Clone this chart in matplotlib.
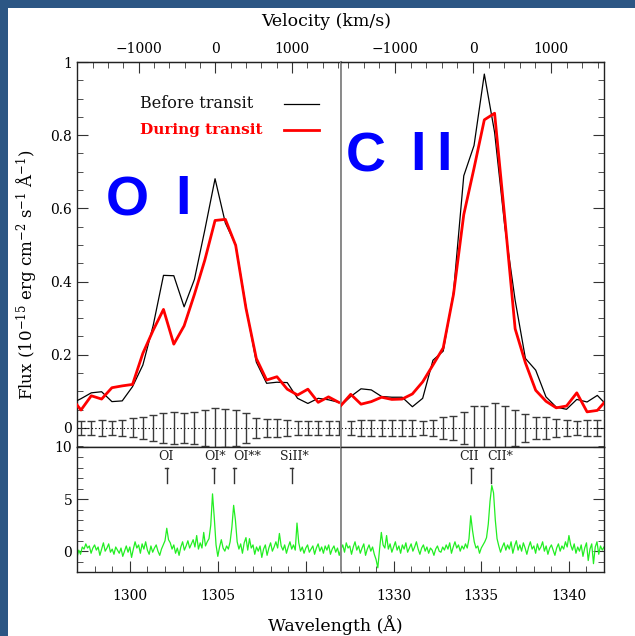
import numpy as np
import matplotlib
matplotlib.use("Agg")
import matplotlib.pyplot as plt
from matplotlib.ticker import MultipleLocator, FixedLocator, FuncFormatter
from matplotlib.patches import Rectangle

plt.rcParams['font.family'] = ['DejaVu Serif']
plt.rcParams['mathtext.fontset'] = 'dejavuserif'

# ── DATA ────────────────────────────────────────────────────
# binned low-resolution spectra (upper panels), first point lies just off the panel edge
bin_step = 0.586
oi_bin_start = 1296.64
cii_bin_start = 1326.97

oi_before = [0.066, 0.08, 0.096, 0.099, 0.072, 0.074, 0.113, 0.172, 0.28, 0.417,
             0.416, 0.331, 0.406, 0.54, 0.681, 0.56, 0.50, 0.33, 0.18, 0.122,
             0.125, 0.124, 0.081, 0.067, 0.081, 0.077, 0.07]
oi_during = [0.085, 0.049, 0.088, 0.079, 0.110, 0.115, 0.119, 0.204, 0.267, 0.324,
             0.229, 0.279, 0.365, 0.458, 0.567, 0.57, 0.499, 0.327, 0.19, 0.131,
             0.14, 0.106, 0.09, 0.106, 0.07, 0.085, 0.07]
oi_err = [0.019, 0.019, 0.021, 0.019, 0.021, 0.026, 0.030, 0.036, 0.041, 0.043,
          0.041, 0.045, 0.050, 0.054, 0.052, 0.050, 0.040, 0.027, 0.025, 0.025,
          0.022, 0.019, 0.019, 0.019, 0.019, 0.019]

cii_before = [0.06, 0.086, 0.107, 0.104, 0.086, 0.084, 0.084, 0.058, 0.081, 0.185,
              0.21, 0.371, 0.689, 0.772, 0.967, 0.808, 0.549, 0.349, 0.19, 0.158,
              0.085, 0.057, 0.051, 0.078, 0.071, 0.089, 0.06]
cii_during = [0.06, 0.092, 0.065, 0.072, 0.084, 0.078, 0.079, 0.093, 0.126, 0.172,
              0.219, 0.365, 0.583, 0.71, 0.842, 0.86, 0.571, 0.271, 0.178, 0.103,
              0.073, 0.055, 0.06, 0.096, 0.044, 0.048, 0.08]
cii_err = [0.019, 0.021, 0.021, 0.023, 0.021, 0.021, 0.021, 0.019, 0.021, 0.030,
           0.032, 0.043, 0.059, 0.061, 0.069, 0.059, 0.050, 0.038, 0.029, 0.029,
           0.024, 0.021, 0.019, 0.022, 0.021, 0.027]

# high-resolution comparison spectrum (lower panels), 0.1 A sampling
hr_step = 0.1
oi_hr_start = 1297.0
cii_hr_start = 1327.0
oi_hr = [-0.6, 0.1, -0.3, 0.4, 0.2, 0.7, 0.3, 0.5, -0.2, 0.3,
         0.6, 0.1, 0.4, -0.4, 0.2, 0.8, 0.0, 0.3, 0.7, -0.1,
         0.2, -0.3, 0.4, 0.1, -0.2, 0.3, -0.5, 0.0, 0.5, -0.1,
         0.4, -0.6, 0.2, 0.9, 0.3, 0.6, -0.2, 0.7, 0.2, 0.9,
         0.1, -0.3, 0.5, -0.1, 0.3, 0.6, 0.0, -0.4, 0.2, 0.6,
         1.0, 2.2, 1.1, 0.8, 0.2, 0.6, -0.2, 0.3, -0.4, 0.4,
         0.9, 0.1, 0.5, 1.0, 0.3, 0.7, 1.1, 0.4, 1.5, 0.2,
         0.8, 0.3, 1.8, 0.5, 0.9, 1.2, 2.5, 5.5, 3.2, 0.6,
         -0.5, 0.4, 1.1, 0.3, 0.0, 0.5, 0.2, 0.9, 2.3, 4.4,
         3.0, 0.9, 0.2, 0.7, -0.2, 0.8, 1.3, 0.1, 1.2, 0.3,
         0.6, -0.3, 0.4, 0.0, 0.5, -0.6, 0.2, 0.6, -0.4, 0.3,
         0.8, 0.0, 0.4, 0.9, 0.3, 1.7, 0.5, 0.1, 0.6, -0.2,
         0.4, 0.9, 0.2, 0.6, 0.1, 2.7, 0.8, 0.0, 0.4, -0.2,
         0.3, 0.6, -0.1, 0.2, 0.5, -0.3, 0.3, 0.7, 0.0, 0.4,
         -0.2, 0.5, 0.1, 0.6, -0.3, 0.2, 0.5, -0.1, 0.3, -0.4,
         0.2]
cii_hr = [0.2, 0.6, -0.1, 0.8, 0.3, 0.5, -0.3, 0.4, 0.9, 0.1,
          0.5, -0.2, 0.3, 0.7, -0.4, 0.2, 0.6, 0.0, 0.4, -0.3,
          -0.8, -1.6, 0.2, 1.8, 0.6, 0.3, 1.5, 0.2, 0.7, -0.1,
          0.4, 0.9, 0.1, 0.5, -0.2, 0.6, 0.2, 0.8, -0.1, 0.3,
          0.7, 0.0, 0.4, 0.9, 0.2, -0.3, 0.3, 0.6, 0.0, 0.4,
          -0.2, 0.3, 0.1, -0.4, 0.2, 0.5, 0.0, -0.1, 0.4, 0.1,
          0.6, 0.2, 0.8, -0.2, 0.4, 0.9, 0.3, 0.6, 0.0, 0.5,
          0.2, 0.7, 0.3, 1.2, 3.4, 2.0, 0.9, 0.3, 0.5, -0.2,
          0.3, 0.6, 0.9, 1.3, 2.6, 4.8, 6.3, 5.6, 3.0, 1.2,
          0.5, -0.1, 0.4, 0.8, 0.1, 0.6, 0.2, 0.9, -0.2, 0.5,
          1.0, 0.1, 0.6, 0.0, 0.8, 0.3, -0.3, 0.4, 0.9, 0.2,
          0.5, -0.2, 0.7, 0.1, 0.4, 0.9, 0.0, 0.5, -0.3, 0.3,
          0.6, 0.1, -0.4, 0.3, 0.7, 0.0, 0.5, 0.2, 0.9, 0.4,
          1.5, 0.6, 0.1, 0.7, -0.2, 0.4, 0.0, 0.6, -0.5, 0.3,
          0.8, -0.9, 0.2, 0.7, -1.2, 0.4, 0.9, -0.3, 0.5, 0.1,
          0.4]

# line identifications: marker wavelength and label centre
oi_lines = ["OI", "OI*", "OI**", "SiII*"]
oi_line_wave = [1302.1, 1304.77, 1305.93, 1309.2]
oi_label_wave = [1302.06, 1304.84, 1306.66, 1309.33]
cii_lines = ["CII", "CII*"]
cii_line_wave = [1334.42, 1335.58]
cii_label_wave = [1334.31, 1336.09]

# velocity reference wavelengths
oi_rest = 1304.86
cii_rest = 1334.53
C_KMS = 299792.458
vel_ticks = [-1000, 0, 1000]

oi_range = (1297.0, 1312.0)
cii_range = (1327.0, 1342.0)

# ── FIGURE ──────────────────────────────────────────────────
W, H = 635, 636
fig = plt.figure(figsize=(W / 100, H / 100), dpi=100)
fig.patch.set_facecolor('#2c5684')
fig.add_artist(Rectangle((8 / W, 0), 1, (H - 8) / H, transform=fig.transFigure,
                         facecolor='white', edgecolor='none', zorder=-5))

x0, xs, x1 = 77 / W, 341 / W, 604 / W
y_top, y_mid, y_bot = 1 - 62 / H, 1 - 447 / H, 1 - 572 / H
ax_ul = fig.add_axes([x0, y_mid, xs - x0, y_top - y_mid])
ax_ur = fig.add_axes([xs, y_mid, x1 - xs, y_top - y_mid])
ax_ll = fig.add_axes([x0, y_bot, xs - x0, y_mid - y_bot])
ax_lr = fig.add_axes([xs, y_bot, x1 - xs, y_mid - y_bot])

split_col = '#8a8a8a'
frame_col = '#222222'
tick_col = '#333333'

panels = [
    (ax_ul, ax_ll, oi_range, oi_bin_start, oi_before, oi_during, oi_err,
     oi_hr_start, oi_hr, oi_lines, oi_line_wave, oi_label_wave, oi_rest, 'left'),
    (ax_ur, ax_lr, cii_range, cii_bin_start, cii_before, cii_during, cii_err,
     cii_hr_start, cii_hr, cii_lines, cii_line_wave, cii_label_wave, cii_rest,
     'right'),
]

for (au, al, wr, bstart, before, during, err, hstart, hr, names, mark_w,
     lab_w, rest, side) in panels:
    w_curve = bstart + bin_step * np.arange(len(before))
    w_err = w_curve[1:1 + len(err)]

    # upper panel: spectra before / during transit
    au.plot(w_curve, before, color='black', lw=0.9, zorder=3)
    au.plot(w_curve, during, color='red', lw=2.0, zorder=4)
    au.axhline(0, color='black', ls=(0, (1.2, 2.0)), lw=0.8, zorder=2)
    au.errorbar(w_err, np.zeros(len(err)), yerr=err, fmt='none',
                ecolor='#3a3a3a', elinewidth=1.0, capsize=2.6, capthick=1.0,
                zorder=3)
    au.set_xlim(*wr)
    au.set_ylim(-0.052, 1.0)

    # lower panel: high-resolution spectrum
    w_hr = hstart + hr_step * np.arange(len(hr))
    al.plot(w_hr, hr, color='#22ee22', lw=0.9)
    al.set_xlim(*wr)
    al.set_ylim(-2, 10)
    for nm, wm, wl in zip(names, mark_w, lab_w):
        al.plot([wm, wm], [6.5, 8.0], color=tick_col, lw=1.0)
        al.plot([wm - 0.09, wm + 0.09], [8.0, 8.0], color=tick_col, lw=1.0)
        al.text(wl, 8.5, nm, ha='center', va='bottom', fontsize=9,
                color='#222222')

    # velocity axis on top
    sec = au.secondary_xaxis(
        'top',
        functions=(lambda w, r=rest: (w - r) / r * C_KMS,
                   lambda v, r=rest: r * (1 + v / C_KMS)))
    sec.xaxis.set_major_locator(FixedLocator(vel_ticks))
    sec.xaxis.set_minor_locator(MultipleLocator(200))
    sec.xaxis.set_major_formatter(
        FuncFormatter(lambda v, p: f"{v:.0f}".replace('-', '\u2212')))
    sec.tick_params(which='both', direction='in', labelsize=10, pad=4,
                    color=tick_col)
    sec.tick_params(which='major', length=8)
    sec.tick_params(which='minor', length=4)
    sec.spines['top'].set_color(frame_col)

    for a in (au, al):
        for sp in a.spines.values():
            sp.set_color(frame_col)
            sp.set_linewidth(1.0)
        inner = 'right' if side == 'left' else 'left'
        a.spines[inner].set_color(split_col)
        a.spines[inner].set_linewidth(1.4)
        a.tick_params(which='both', direction='in', top=False, bottom=False,
                      left=(side == 'left'), right=(side == 'right'),
                      labelleft=(side == 'left'), labelright=False,
                      labelbottom=False, labelsize=10, color=tick_col)
        a.tick_params(which='major', length=8)
        a.tick_params(which='minor', length=4)

    au.yaxis.set_major_locator(MultipleLocator(0.2))
    au.yaxis.set_minor_locator(MultipleLocator(0.05))
    au.yaxis.set_major_formatter(FuncFormatter(lambda v, p: f"{v:g}"))
    al.yaxis.set_major_locator(MultipleLocator(5))
    al.yaxis.set_minor_locator(MultipleLocator(1))
    al.xaxis.set_major_locator(MultipleLocator(5))
    al.xaxis.set_minor_locator(MultipleLocator(1))
    al.tick_params(which='both', bottom=True, labelbottom=True)
    al.tick_params(axis='x', pad=12)

# legend drawn by hand in the upper-left panel
ax_ul.text(0.24, 0.891, "Before transit", transform=ax_ul.transAxes,
           fontsize=11.5, va='center', ha='left', color='#111111')
ax_ul.plot([0.783, 0.916], [0.891, 0.891], transform=ax_ul.transAxes,
           color='black', lw=0.9)
ax_ul.text(0.24, 0.823, "During transit", transform=ax_ul.transAxes,
           fontsize=11, va='center', ha='left', color='red', fontweight='bold')
ax_ul.plot([0.783, 0.916], [0.823, 0.823], transform=ax_ul.transAxes,
           color='red', lw=2.0)

# ion labels, placed glyph by glyph (pixel positions from the top-left corner)
ion_kw = dict(fontsize=40, fontweight='bold', color='#0000ff',
              family=['Liberation Sans'], ha='center', va='baseline')
for ch, px, py in [("O", 127, 215), ("I", 183, 214),
                   ("C", 366, 171), ("I", 418, 170), ("I", 444, 170)]:
    fig.text(px / W, 1 - py / H, ch, **ion_kw)

fig.text(0.513, 1 - 22 / H, "Velocity (km/s)", ha='center', va='center',
         fontsize=12.5)
fig.text(0.528, 1 - 625 / H, "Wavelength (\u00c5)", ha='center', va='center',
         fontsize=12.5)
fig.text(27 / W, 1 - 275 / H,
         "Flux (10$^{-15}$ erg cm$^{-2}$ s$^{-1}$ \u00c5$^{-1}$)",
         rotation=90, ha='center', va='center', fontsize=12)

fig.savefig("out.png", dpi=100, facecolor=fig.get_facecolor())
